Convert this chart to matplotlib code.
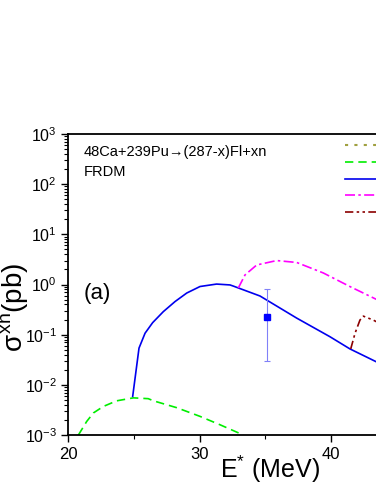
import numpy as np
import matplotlib
matplotlib.use('Agg')
import matplotlib.pyplot as plt
from matplotlib.lines import Line2D
from matplotlib.ticker import LogLocator, FixedLocator

plt.rcParams['font.family'] = ['Liberation Sans', 'DejaVu Sans']
plt.rcParams['mathtext.fontset'] = 'custom'
plt.rcParams['mathtext.rm'] = 'Liberation Sans'
plt.rcParams['mathtext.it'] = 'Liberation Sans'

# excitation energy (MeV) and cross sections (pb)
e_2n = [20.79, 21.42, 21.93, 22.68, 23.7, 24.97, 26.1, 26.5, 28.27, 30.04, 31.56, 33.33]
s_2n = [1.0e-3, 1.86e-3, 2.75e-3, 3.7e-3, 4.8e-3, 5.5e-3, 5.3e-3, 4.8e-3, 3.5e-3,
        2.35e-3, 1.6e-3, 1.0e-3]

e_3n = [24.92, 25.4, 25.86, 26.44, 27.25, 28.14, 29.03, 30.04, 31.3, 32.32, 32.57,
        34.6, 35.11, 37.39, 39.92, 41.44, 43.42, 46.0, 50.0]
s_3n = [5.9e-3, 0.054, 0.107, 0.174, 0.288, 0.457, 0.676, 0.912, 1.02, 0.98, 0.93,
        0.59, 0.49, 0.214, 0.091, 0.052, 0.029, 0.0123, 0.0033]

e_4n = [32.95, 33.46, 34.35, 35.87, 37.39, 39.41, 41.44, 43.42, 46.0, 50.0]
s_4n = [0.85, 1.55, 2.45, 3.0, 2.75, 1.7, 0.91, 0.51, 0.24, 0.063]

e_5n = [41.5, 41.83, 42.2, 42.46, 43.22, 45.0, 47.0, 50.0]
s_5n = [0.052, 0.107, 0.195, 0.234, 0.195, 0.112, 0.056, 0.018]

# experimental point with asymmetric error bar
e_exp = [35.1]
s_exp = [0.23]
s_exp_lo = [0.030]
s_exp_hi = [0.81]

# legend entries (their text lies beyond the cropped right edge)
labels = ['', '', '', '', '']

W, H = 376, 487
fig = plt.figure(figsize=(W / 100, H / 100), dpi=100)
ax = fig.add_axes([68 / W, 52 / H, 394.5 / W, 301 / H])

ls_2n = (0, (5, 3))
ls_4n = (0, (6, 2, 1.5, 2))
ls_5n = (0, (5, 2, 1.5, 2, 1.5, 2))

ax.plot(e_2n, s_2n, color='#00ee00', ls=ls_2n, lw=1.2)
ax.plot(e_3n, s_3n, color='#0000ee', ls='-', lw=1.2)
ax.plot(e_4n, s_4n, color='#ff00ff', ls=ls_4n, lw=1.2)
ax.plot(e_5n, s_5n, color='#8b0000', ls=ls_5n, lw=1.2)

yerr = [np.subtract(s_exp, s_exp_lo), np.subtract(s_exp_hi, s_exp)]
ax.errorbar(e_exp, s_exp, yerr=yerr, fmt='s', color='#0000ff', ms=4.5,
            ecolor='#8080f8', elinewidth=0.8, capsize=2.5, capthick=0.8)

ax.set_yscale('log')
ax.set_xlim(20, 50)
ax.set_ylim(1e-3, 1e3)
ax.xaxis.set_major_locator(FixedLocator([20, 30, 40]))
ax.xaxis.set_minor_locator(FixedLocator([25, 35, 45]))
ax.yaxis.set_major_locator(LogLocator(base=10, numticks=10))
ax.yaxis.set_minor_locator(LogLocator(base=10, subs=np.arange(2, 10), numticks=20))
ax.tick_params(which='major', direction='out', length=5, width=1, labelsize=12)
ax.tick_params(axis='y', which='major', labelsize=11.5, pad=3)
ax.tick_params(which='minor', direction='out', length=3, width=0.8)
for s in ax.spines.values():
    s.set_linewidth(1.3)

fig.text(270 / W, 1 - 469 / H, 'E$^{*}$ (MeV)', fontsize=18, ha='center', va='center')
fig.text(15 / W, 1 - 307 / H, r'$\sigma^{\mathrm{xn}}$(pb)', fontsize=20,
         rotation=90, ha='center', va='center')

ax.text(0.04, 0.94, '48Ca+239Pu\u2192(287-x)Fl+xn', transform=ax.transAxes,
        fontsize=10.5, va='center')
ax.text(0.04, 0.873, 'FRDM', transform=ax.transAxes, fontsize=10.5, va='center')
ax.text(0.04, 0.47, '(a)', transform=ax.transAxes, fontsize=16, va='center')

handles = [
    Line2D([], [], color='#a0a040', ls=(0, (1.5, 3)), lw=1.5),
    Line2D([], [], color='#00ee00', ls=ls_2n, lw=1.2),
    Line2D([], [], color='#0000ee', ls='-', lw=1.2),
    Line2D([], [], color='#ff00ff', ls=ls_4n, lw=1.2),
    Line2D([], [], color='#8b0000', ls=ls_5n, lw=1.2),
]
fig.legend(handles, labels, loc='upper left', bbox_to_anchor=(345 / W, (H - 139) / H),
           frameon=False, fontsize=10, labelspacing=0.2, borderpad=0,
           borderaxespad=0, handlelength=3)

fig.savefig('out.png', dpi=100)
